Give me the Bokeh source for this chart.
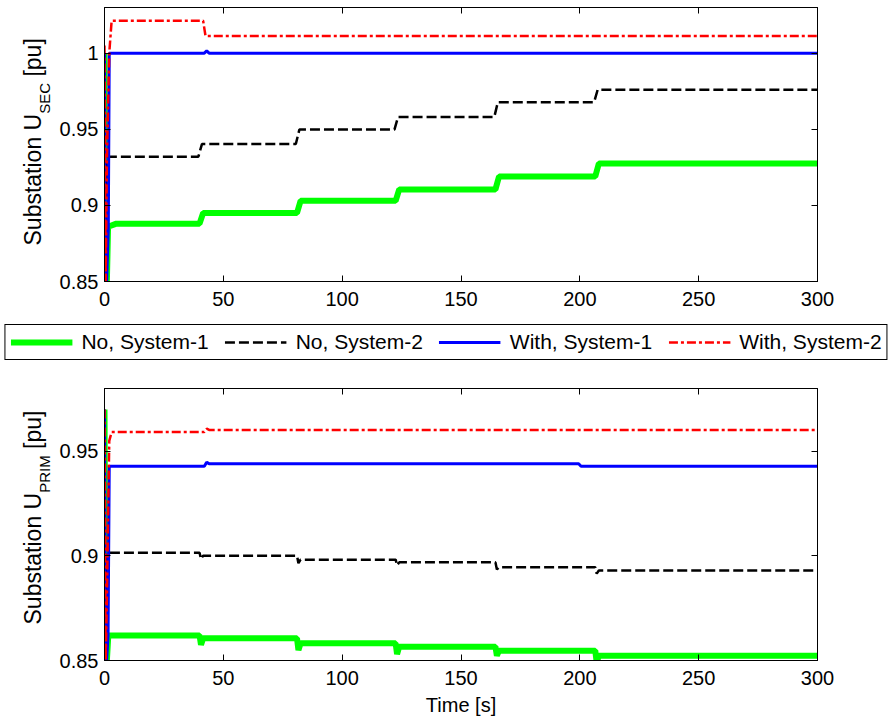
from bokeh.plotting import figure
from bokeh.models import (Range1d, FixedTicker, LinearAxis, Label, Legend,
                          LegendItem, CustomJSTickFormatter)
from bokeh.layouts import column, row
from bokeh.embed import file_html
from bokeh.resources import INLINE

# ---------------- data ----------------
SERIES_LABELS = ["No, System-1", "No, System-2", "With, System-1", "With, System-2"]

X_TICKS = [0, 50, 100, 150, 200, 250, 300]
X_TITLE = "Time [s]"

# Upper panel: Substation U_SEC [pu]
SEC_Y_TITLE = ("Substation U", "SEC", "[pu]")
SEC_Y_TICKS = [0.85, 0.9, 0.95, 1.0]
SEC_Y_LABELS = ["0.85", "0.9", "0.95", "1"]
SEC_NO1_T = [0, 0.5, 1.0, 1.5, 5, 40, 41.5, 81, 82.5, 122.5, 124, 164.5, 166, 206.5, 208, 300]
SEC_NO1_U = [1.0, 0.85, 0.85, 0.886, 0.888, 0.888, 0.895, 0.895, 0.903, 0.903, 0.9105,
             0.9105, 0.919, 0.919, 0.9275, 0.9275]
SEC_NO2_T = [0, 0.5, 1.0, 39.5, 41, 80.5, 82, 122, 123.5, 164, 165.5, 206, 207.5, 300]
SEC_NO2_U = [0.85, 0.85, 0.932, 0.932, 0.9403, 0.9403, 0.9498, 0.9498, 0.958, 0.958,
             0.9678, 0.9678, 0.976, 0.976]
SEC_WITH1_T = [0, 0.4, 0.9, 1.6, 2.0, 42, 43, 44, 300]
SEC_WITH1_U = [1.0, 0.85, 0.85, 0.885, 1.0, 1.0, 1.0015, 1.0, 1.0]
SEC_WITH2_T = [0, 0.5, 1.0, 2.0, 3.0, 41.5, 42.5, 300]
SEC_WITH2_U = [1.005, 0.85, 0.93, 1.0, 1.0213, 1.0213, 1.0113, 1.0113]

# Lower panel: Substation U_PRIM [pu]
PRIM_Y_TITLE = ("Substation U", "PRIM", "[pu]")
PRIM_Y_TICKS = [0.85, 0.9, 0.95]
PRIM_Y_LABELS = ["0.85", "0.9", "0.95"]
PRIM_NO1_T = [0, 0.5, 1.0, 1.6, 40, 40.6, 41.5, 81, 81.6, 82.5, 122.5, 123.1, 124,
              164.5, 165.1, 166, 206.5, 207.1, 208, 300]
PRIM_NO1_U = [0.97, 0.85, 0.85, 0.862, 0.862, 0.8575, 0.8606, 0.8606, 0.855, 0.8582,
              0.8582, 0.853, 0.8566, 0.8566, 0.8523, 0.8547, 0.8547, 0.849, 0.8523, 0.8523]
PRIM_NO2_T = [0, 0.5, 1.0, 40, 40.6, 41.5, 81, 81.6, 82.5, 122.5, 123.1, 124,
              164.5, 165.1, 166, 206.5, 207.1, 208, 300]
PRIM_NO2_U = [0.85, 0.85, 0.9015, 0.9015, 0.8985, 0.9001, 0.9001, 0.8965, 0.8982, 0.8982,
              0.8955, 0.8969, 0.8969, 0.8935, 0.8946, 0.8946, 0.8915, 0.893, 0.893]
PRIM_WITH1_T = [0, 0.4, 0.9, 1.5, 2.0, 42, 43, 44, 199.5, 200.5, 300]
PRIM_WITH1_U = [0.97, 0.85, 0.85, 0.862, 0.9428, 0.9428, 0.9448, 0.944, 0.944, 0.9428, 0.9428]
PRIM_WITH2_T = [0, 0.5, 1.0, 2.0, 3.0, 42, 43, 44, 300]
PRIM_WITH2_U = [0.97, 0.85, 0.88, 0.955, 0.9592, 0.9592, 0.9608, 0.9602, 0.9602]

SEC_SERIES = [(SEC_NO1_T, SEC_NO1_U), (SEC_NO2_T, SEC_NO2_U),
              (SEC_WITH1_T, SEC_WITH1_U), (SEC_WITH2_T, SEC_WITH2_U)]
PRIM_SERIES = [(PRIM_NO1_T, PRIM_NO1_U), (PRIM_NO2_T, PRIM_NO2_U),
               (PRIM_WITH1_T, PRIM_WITH1_U), (PRIM_WITH2_T, PRIM_WITH2_U)]

# ---------------- styling ----------------
FONT = "Liberation Sans"
STYLES = [
    dict(line_color="#00ff00", line_width=6),
    dict(line_color="#000000", line_width=2.5, line_dash="10 4"),
    dict(line_color="#0000ff", line_width=3),
    dict(line_color="#ff0000", line_width=2.5, line_dash="9 3 3 3"),
]
W = 892          # total width
LW = 54          # width of the strip that holds the rotated y titles
FRAME_W = 713
LEFT = 104 - LW  # left border of the panel figure
MAIN_PX, SUB_PX = 23, 15


def style_axis(ax, labels=True):
    ax.major_tick_in = 6
    ax.major_tick_out = 0
    ax.minor_tick_in = 0
    ax.minor_tick_out = 0
    ax.axis_line_color = "black"
    ax.major_tick_line_color = "black"
    ax.major_label_text_font = FONT
    ax.major_label_text_font_size = "20px"
    ax.major_label_text_color = "black"
    ax.major_label_standoff = 6
    if not labels:
        ax.formatter = CustomJSTickFormatter(code="return ''")
        ax.major_label_text_font_size = "1px"
        ax.major_label_standoff = 0


def make_panel(height, top_border, bottom_border, y_lo, y_hi, yticks, ylabels, series,
               xlabel=None):
    pw = W - LW
    p = figure(width=pw, height=height, x_range=Range1d(0, 300), y_range=Range1d(y_lo, y_hi),
               output_backend="svg", toolbar_location=None,
               min_border_left=LEFT, min_border_right=pw - LEFT - FRAME_W,
               min_border_top=top_border, min_border_bottom=bottom_border)
    p.grid.visible = False
    p.outline_line_color = "black"
    p.outline_line_width = 1
    p.background_fill_color = "white"
    p.border_fill_color = "white"

    xax = p.xaxis[0]
    yax = p.yaxis[0]
    xax.ticker = FixedTicker(ticks=X_TICKS)
    yax.ticker = FixedTicker(ticks=yticks)
    yax.major_label_overrides = {t: l for t, l in zip(yticks, ylabels)}
    style_axis(xax)
    style_axis(yax)
    xax.major_label_standoff = 10
    if xlabel:
        xax.axis_label = xlabel
        xax.axis_label_text_font = FONT
        xax.axis_label_text_font_size = "20px"
        xax.axis_label_text_font_style = "normal"
        xax.axis_label_text_color = "black"
        xax.axis_label_standoff = 6

    top_ax = LinearAxis(ticker=FixedTicker(ticks=X_TICKS))
    style_axis(top_ax, labels=False)
    p.add_layout(top_ax, "above")
    right_ax = LinearAxis(ticker=FixedTicker(ticks=yticks))
    style_axis(right_ax, labels=False)
    p.add_layout(right_ax, "right")

    for (t, u), st in zip(series, STYLES):
        p.line(t, u, **st)
    return p


def title_strip(height, parts, start_y):
    """Narrow figure holding the rotated y title with a subscript."""
    s = figure(width=LW, height=height, output_backend="svg", toolbar_location=None,
               x_range=Range1d(0, 1), y_range=Range1d(0, 1),
               x_axis_location=None, y_axis_location=None, min_border=0)
    s.frame_align = False
    s.grid.visible = False
    s.outline_line_color = None
    main, sub, tail = parts
    # advance widths (Arial/Liberation Sans metrics, em units)
    adv = {"S": .667, "u": .556, "b": .556, "s": .5, "t": .278, "a": .556, "i": .222,
           "o": .556, "n": .556, " ": .278, "U": .722, "E": .667, "C": .722, "P": .667,
           "R": .722, "I": .278, "M": .833, "[": .278, "p": .556, "]": .278}
    w_main = sum(adv[c] for c in main) * MAIN_PX
    w_sub = sum(adv[c] for c in sub) * SUB_PX
    w_space = adv[" "] * MAIN_PX
    common = dict(x_units="screen", y_units="screen", angle=90, angle_units="deg",
                  text_align="left", text_baseline="alphabetic", text_font=FONT,
                  text_color="black")
    s.add_layout(Label(x=32, y=start_y, text=main, text_font_size=f"{MAIN_PX}px", **common))
    s.add_layout(Label(x=43.5, y=start_y + w_main, text=sub,
                       text_font_size=f"{SUB_PX}px", **common))
    s.add_layout(Label(x=32, y=start_y + w_main + w_sub + w_space, text=tail,
                       text_font_size=f"{MAIN_PX}px", **common))
    return s


TOP_H = 318
top = make_panel(TOP_H, 7, 37, 0.85, 1.03, SEC_Y_TICKS, SEC_Y_LABELS, SEC_SERIES)
top_title = title_strip(TOP_H, SEC_Y_TITLE, 73)

BOT_H = 353
bottom = make_panel(BOT_H, 22, 59, 0.85, 0.98, PRIM_Y_TICKS, PRIM_Y_LABELS, PRIM_SERIES,
                    xlabel=X_TITLE)
bot_title = title_strip(BOT_H, PRIM_Y_TITLE, 95)

# legend strip (its own row between the two panels)
leg = figure(width=W, height=48, output_backend="svg", toolbar_location=None,
             x_range=Range1d(0, 300), y_range=Range1d(5, 6),
             x_axis_location=None, y_axis_location=None,
             min_border=0)
leg.frame_align = False
leg.grid.visible = False
leg.outline_line_color = None
items = []
for lab, (t, u), st in zip(SERIES_LABELS, SEC_SERIES, STYLES):
    r = leg.line(t, u, visible=False, **st)
    items.append(LegendItem(label=lab, renderers=[r]))
legend = Legend(items=items, orientation="horizontal", location="center",
                label_text_font=FONT, label_text_font_size="21px", label_text_color="black",
                glyph_width=62, glyph_height=20, label_standoff=9, spacing=16,
                padding=5, margin=0, label_height=20,
                border_line_color="black", border_line_width=1.5, border_line_alpha=1,
                background_fill_color="white", background_fill_alpha=1)
leg.add_layout(legend, "center")

layout = column(row(top_title, top, spacing=0), leg, row(bot_title, bottom, spacing=0),
                spacing=0)
open("out.html", "w").write(file_html(layout, INLINE))
